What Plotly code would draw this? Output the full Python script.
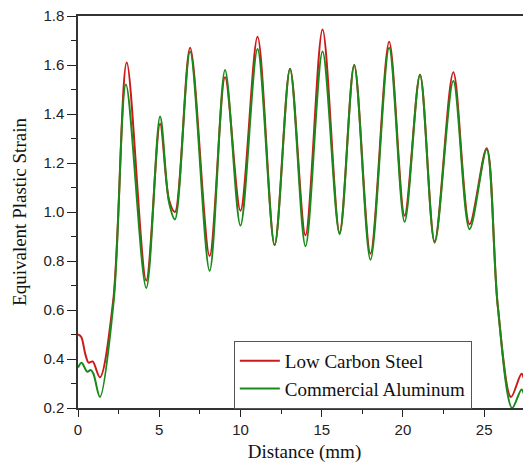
import plotly.graph_objects as go

# Low Carbon Steel (red)
steel_x = [0, 0.2, 0.45, 0.65, 0.9, 1.35, 2.17, 3.0, 4.2, 5.05, 5.6, 5.97,
           6.9, 8.1, 9.05, 10.0, 11.05, 12.1, 13.05, 14.0, 15.05, 16.1, 17.0, 18.0, 19.15, 20.1,
           21.05, 21.95, 23.1, 24.1, 25.15, 25.83, 26.65, 27.3, 27.55, 27.88]
steel_y = [0.50, 0.49, 0.42, 0.385, 0.39, 0.325, 0.64, 1.61, 0.72, 1.36, 1.05, 1.0,
           1.67, 0.82, 1.55, 1.005, 1.715, 0.865, 1.585, 0.905, 1.745, 0.915, 1.60, 0.83, 1.695, 0.985,
           1.56, 0.88, 1.57, 0.95, 1.26, 0.62, 0.245, 0.34, 0.307, 0.333]

# Commercial Aluminum (green)
alu_x = [0, 0.22, 0.57, 0.78, 0.95, 1.35, 2.2, 2.95, 4.2, 5.05, 5.6, 5.97,
         6.9, 8.1, 9.05, 10.0, 11.05, 12.1, 13.05, 14.0, 15.05, 16.1, 17.0, 18.0, 19.15, 20.1,
         21.05, 21.95, 23.1, 24.1, 25.15, 25.83, 26.72, 27.3, 27.55, 27.88]
alu_y = [0.365, 0.385, 0.348, 0.355, 0.34, 0.245, 0.64, 1.52, 0.69, 1.39, 1.04, 0.97,
         1.655, 0.76, 1.58, 0.945, 1.665, 0.865, 1.585, 0.86, 1.655, 0.91, 1.60, 0.805, 1.67, 0.96,
         1.56, 0.875, 1.535, 0.93, 1.255, 0.62, 0.2, 0.276, 0.246, 0.272]

x_ticks = [0, 5, 10, 15, 20, 25]
y_ticks = [0.2, 0.4, 0.6, 0.8, 1.0, 1.2, 1.4, 1.6, 1.8]
y_tick_labels = ["0.2", "0.4", "0.6", "0.8", "1.0", "1.2", "1.4", "1.6", "1.8"]

fig = go.Figure()
fig.add_trace(go.Scatter(x=steel_x, y=steel_y, mode="lines", name="Low Carbon Steel",
                         line=dict(color="#cc1a1a", width=2, shape="spline", smoothing=0.9)))
fig.add_trace(go.Scatter(x=alu_x, y=alu_y, mode="lines", name="Commercial Aluminum",
                         line=dict(color="#1a8a1a", width=2, shape="spline", smoothing=0.9)))

serif = "Liberation Serif, Times New Roman, serif"

fig.update_layout(
    width=523, height=455,
    margin=dict(l=70, r=0, t=8, b=55),
    paper_bgcolor="white", plot_bgcolor="white",
    font=dict(family="Liberation Sans, Arial, sans-serif", size=15, color="#222"),
    legend=dict(x=0.344, y=0.171, xanchor="left", yanchor="top",
                bgcolor="white", bordercolor="#555", borderwidth=1,
                font=dict(family=serif, size=19, color="#111"),
                tracegroupgap=0, itemwidth=40),
    showlegend=True,
)
fig.update_xaxes(
    range=[0, 27.88], tickvals=x_ticks, ticks="outside", ticklen=7, tickwidth=1.3,
    tickcolor="#222", showline=True, linecolor="#333", linewidth=1.5, mirror=True,
    showgrid=False, zeroline=False, automargin=False, ticklabeloverflow="allow",
    minor=dict(dtick=2.5, tick0=0, ticks="outside", ticklen=4, tickcolor="#222", tickwidth=1.3),
    title=dict(text="Distance (mm)", standoff=17, font=dict(family=serif, size=19, color="#111")),
)
fig.update_yaxes(
    range=[0.2, 1.8], tickvals=y_ticks, ticktext=y_tick_labels, ticks="outside", ticklen=9,
    tickwidth=1.3, tickcolor="#222", showline=True, linecolor="#333", linewidth=1.5,
    showgrid=False, zeroline=False, automargin=False, ticklabeloverflow="allow",
    minor=dict(dtick=0.1, tick0=0.1, ticks="outside", ticklen=5, tickcolor="#222", tickwidth=1.3),
    title=dict(text="Equivalent Plastic Strain", standoff=12, font=dict(family=serif, size=19, color="#111")),
)

fig.write_html("out.html")
